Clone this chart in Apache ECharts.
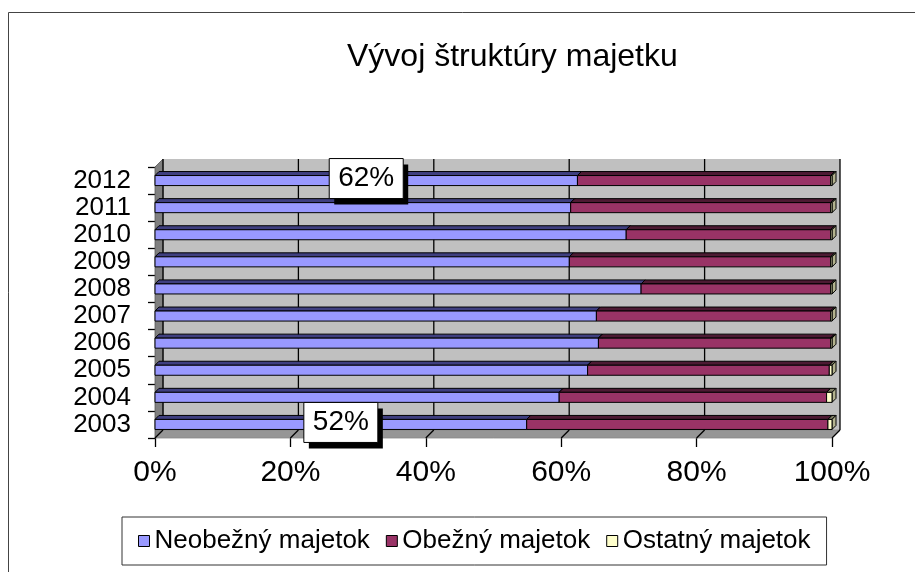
<!DOCTYPE html>
<html><head><meta charset="utf-8">
<script src="https://cdn.jsdelivr.net/npm/echarts@6/dist/echarts.min.js"></script>
<style>html,body{margin:0;padding:0;background:#fff}#c{width:915px;height:572px}</style>
</head><body><div id="c"></div>
<script>
const years = ['2003','2004','2005','2006','2007','2008','2009','2010','2011','2012'];
const neobezny = [54.9, 59.7, 63.9, 65.5, 65.2, 71.8, 61.2, 69.6, 61.4, 62.4];
const obezny   = [44.5, 39.5, 35.7, 34.3, 34.6, 28.0, 38.6, 30.2, 38.4, 37.4];
const ostatny  = [0.6, 0.8, 0.4, 0.2, 0.2, 0.2, 0.2, 0.2, 0.2, 0.2];
const pointLabels = ['52%', '', '', '', '', '', '', '', '', '62%'];
const xTicks = [0, 20, 40, 60, 80, 100];
const seriesNames = ['Neobežný majetok', 'Obežný majetok', 'Ostatný majetok'];

const FONT = 'Liberation Sans, Arial, sans-serif';
const DEPTH = 8;      // wall depth offset (px)
const BDEPTH = 4;     // bar depth (px)
const faces = [
  {front: '#9999FF', top: '#3F3F80', side: '#6B6BB3'},
  {front: '#993366', top: '#4D1A33', side: '#6B2447'},
  {front: '#FFFFCC', top: '#808066', side: '#B3B38F'}
];
const valuesBySeries = [neobezny, obezny, ostatny];

// build stacked segments [catIndex, start, end]
const segData = [[], [], []];
years.forEach((y, i) => {
  let acc = 0;
  for (let s = 0; s < 3; s++) {
    const v = valuesBySeries[s][i];
    segData[s].push([i, acc, acc + v]);
    acc += v;
  }
});

function makeBarRender(sIdx) {
  return function (params, api) {
    const cat = api.value(0);
    const p0 = api.coord([api.value(1), cat]);
    const p1 = api.coord([api.value(2), cat]);
    const band = api.size([0, 1])[1];
    const h = band * 0.37;
    const d = BDEPTH;
    const yT = p0[1] - h / 2, yB = yT + h;
    const x0 = p0[0], x1 = p1[0];
    const f = faces[sIdx];
    const st = {stroke: '#000', lineWidth: 1};
    const children = [
      {type: 'polygon', shape: {points: [[x0, yT], [x1, yT], [x1 + d, yT - d], [x0 + d, yT - d]]},
       style: Object.assign({fill: f.top}, st)},
      {type: 'polygon', shape: {points: [[x1, yT], [x1 + d, yT - d], [x1 + d, yB - d], [x1, yB]]},
       style: Object.assign({fill: f.side}, st)},
      {type: 'rect', shape: {x: x0, y: yT, width: x1 - x0, height: h},
       style: Object.assign({fill: f.front}, st)}
    ];
    if (sIdx === 0 && pointLabels[cat]) {
      const cx = (x0 + x1) / 2, cy = p0[1] - 2;
      const bw = 74, bh = 40;
      children.push(
        {type: 'rect', z2: 10, shape: {x: cx - bw / 2 + 5, y: cy - bh / 2 + 6, width: bw, height: bh},
         style: {fill: '#000'}},
        {type: 'rect', z2: 11, shape: {x: cx - bw / 2, y: cy - bh / 2, width: bw, height: bh},
         style: {fill: '#fff', stroke: '#000', lineWidth: 1}},
        {type: 'text', z2: 12, style: {text: pointLabels[cat], x: cx, y: cy, align: 'center', verticalAlign: 'middle',
          font: '28px ' + FONT, fill: '#000'}}
      );
    }
    return {type: 'group', children};
  };
}

function renderWalls(params, api) {
  const cs = params.coordSys;
  const x = cs.x, y = cs.y, w = cs.width, h = cs.height, d = DEPTH;
  const children = [
    {type: 'rect', shape: {x: x + d, y: y - d, width: w, height: h}, style: {fill: '#C0C0C0'}},
    {type: 'polygon', shape: {points: [[x, y], [x + d, y - d], [x + d, y + h - d], [x, y + h]]},
     style: {fill: '#808080', stroke: '#555', lineWidth: 0.8}},
    {type: 'polygon', shape: {points: [[x, y + h], [x + d, y + h - d], [x + w + d, y + h - d], [x + w, y + h]]},
     style: {fill: '#969696', stroke: '#888', lineWidth: 0.8}}
  ];
  xTicks.forEach(v => {
    const px = api.coord([v, 0])[0];
    children.push({type: 'line', shape: {x1: px + d, y1: y - d, x2: px + d, y2: y + h - d},
      style: {stroke: '#000', lineWidth: 1.3}});
    children.push({type: 'line', shape: {x1: px + d, y1: y + h - d, x2: px, y2: y + h},
      style: {stroke: '#000', lineWidth: 1.3}});
  });
  return {type: 'group', children};
}

const chart = echarts.init(document.getElementById('c'), null, {renderer: 'canvas'});
const series = [{
  type: 'custom', name: '_walls', renderItem: renderWalls, data: [[0, 0, 0]],
  encode: {x: 1, y: 0}, clip: false, z: 1, silent: true
}];
for (let s = 0; s < 3; s++) {
  series.push({
    type: 'custom', name: seriesNames[s], renderItem: makeBarRender(s), data: segData[s],
    encode: {x: [1, 2], y: 0}, clip: false, z: 2 + s,
    itemStyle: {color: faces[s].front}
  });
}

chart.setOption({
  animation: false,
  backgroundColor: '#fff',
  textStyle: {fontFamily: FONT},
  graphic: [{type: 'rect', silent: true, z: -10,
    shape: {x: 8.5, y: 12.5, width: 1000, height: 1000},
    style: {fill: 'none', stroke: '#444', lineWidth: 1}}],
  title: {
    text: 'Vývoj štruktúry majetku', left: 342, top: 36,
    textStyle: {fontFamily: FONT, fontSize: 32, fontWeight: 'normal', color: '#000'}
  },
  legend: {
    data: seriesNames, left: 122, top: 517, padding: [11, 16], itemGap: 16,
    itemWidth: 11, itemHeight: 11, icon: 'rect',
    borderColor: '#333', borderWidth: 1,
    itemStyle: {borderColor: '#000', borderWidth: 1},
    textStyle: {fontFamily: FONT, fontSize: 26, color: '#000'}
  },
  grid: {left: 155, top: 167, width: 677, height: 271, containLabel: false},
  xAxis: {
    type: 'value', min: 0, max: 100, interval: 20,
    axisLine: {show: false},
    axisTick: {show: true, length: 9, lineStyle: {color: '#000', width: 1.3}},
    splitLine: {show: false},
    axisLabel: {formatter: '{value}%', fontSize: 30, color: '#000', fontFamily: FONT, margin: 20}
  },
  yAxis: {
    type: 'category', data: years,
    axisLine: {show: true, lineStyle: {color: '#000', width: 1}},
    axisTick: {show: true, length: 7, lineStyle: {color: '#000', width: 1.3}},
    splitLine: {show: false},
    axisLabel: {interval: 0, fontSize: 26, color: '#000', fontFamily: FONT, margin: 24}
  },
  series
});
</script></body></html>
